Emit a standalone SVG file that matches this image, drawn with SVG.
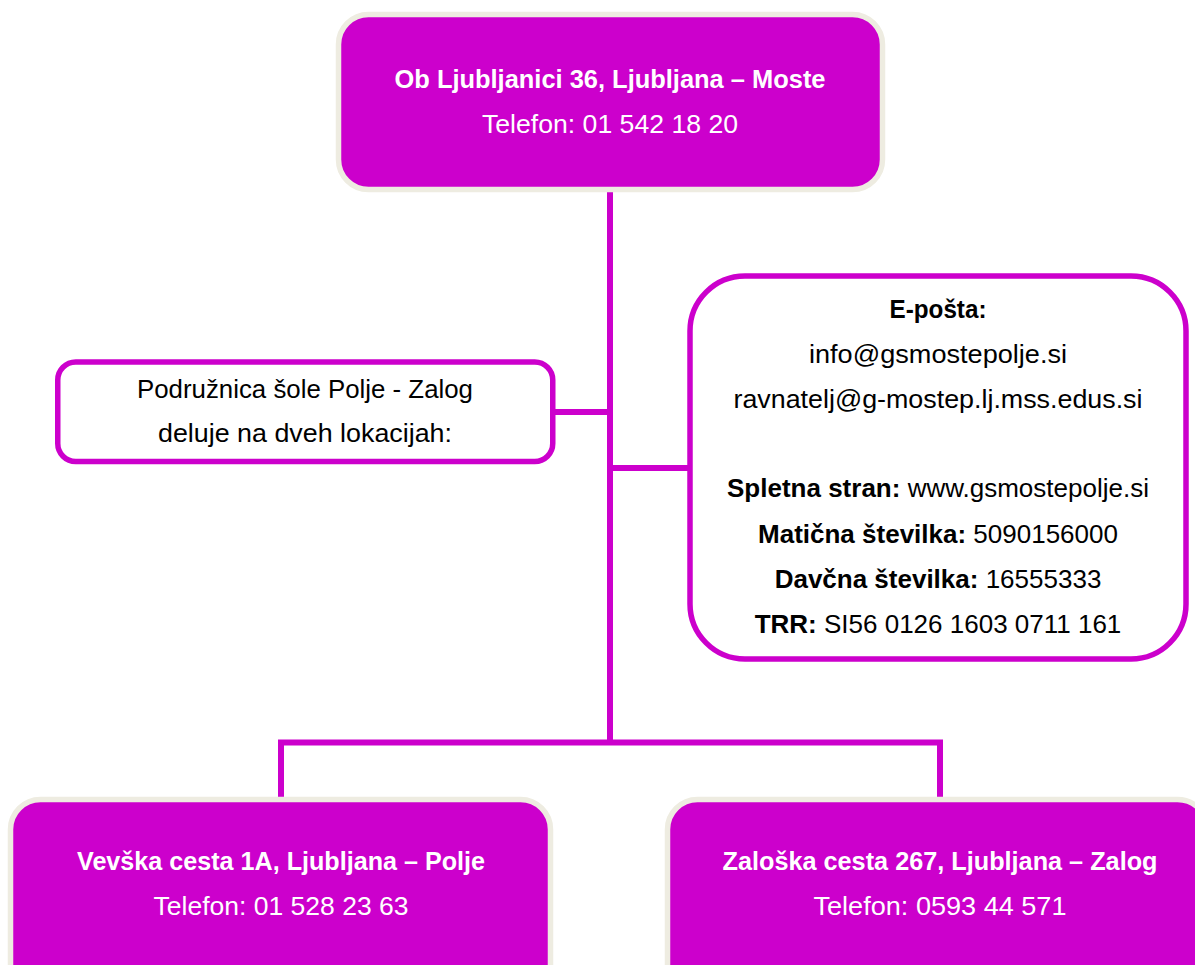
<svg xmlns="http://www.w3.org/2000/svg" width="1195" height="965" viewBox="0 0 1195 965">
<style>
.fill{fill:#CC00CC;stroke:#EEECE1;stroke-width:5.5}
.outline{fill:#FFFFFF;stroke:#CC00CC;stroke-width:5.5}
.conn{fill:none;stroke:#CC00CC;stroke-width:6;stroke-linecap:butt;stroke-linejoin:miter}
text{font-family:"Liberation Sans",Arial,sans-serif;font-size:26px;text-anchor:middle}
.w{fill:#FFFFFF}
.k{fill:#000000}
.b{font-weight:bold}
</style>
<rect width="1195" height="965" fill="#FFFFFF"/>
<g id="connectors">
<path class="conn" d="M610 192 V742"/>
<path class="conn" d="M555 412 H610"/>
<path class="conn" d="M610 468 H688"/>
<path class="conn" d="M281 797 V742.5 H940 V797"/>
</g>
<g id="node-main">
<rect class="fill" x="338.5" y="14.5" width="544" height="175" rx="30"/>
<text class="w b" x="610" y="88" textLength="431" lengthAdjust="spacingAndGlyphs">Ob Ljubljanici 36, Ljubljana – Moste</text>
<text class="w" x="610" y="133" textLength="256" lengthAdjust="spacingAndGlyphs">Telefon: 01 542 18 20</text>
</g>
<g id="node-podruznica">
<rect class="outline" x="57.75" y="362" width="495" height="99.5" rx="18"/>
<text class="k" x="305" y="398" textLength="336" lengthAdjust="spacingAndGlyphs">Podružnica šole Polje - Zalog</text>
<text class="k" x="305" y="442" textLength="294" lengthAdjust="spacingAndGlyphs">deluje na dveh lokacijah:</text>
</g>
<g id="node-info">
<rect class="outline" x="690" y="276" width="496" height="383" rx="55"/>
<text class="k b" x="938" y="318" textLength="97" lengthAdjust="spacingAndGlyphs">E-pošta:</text>
<text class="k" x="938" y="363" textLength="258" lengthAdjust="spacingAndGlyphs">info@gsmostepolje.si</text>
<text class="k" x="938" y="408" textLength="409" lengthAdjust="spacingAndGlyphs">ravnatelj@g-mostep.lj.mss.edus.si</text>
<text class="k" x="938" y="497"><tspan class="b">Spletna stran:</tspan> www.gsmostepolje.si</text>
<text class="k" x="938" y="543"><tspan class="b">Matična številka:</tspan> 5090156000</text>
<text class="k" x="938" y="588"><tspan class="b">Davčna številka:</tspan> 16555333</text>
<text class="k" x="938" y="633"><tspan class="b">TRR:</tspan> SI56 0126 1603 0711 161</text>
</g>
<g id="node-polje">
<rect class="fill" x="10.5" y="799.5" width="540" height="200" rx="30"/>
<text class="w b" x="281" y="870" textLength="408" lengthAdjust="spacingAndGlyphs">Vevška cesta 1A, Ljubljana – Polje</text>
<text class="w" x="281" y="915" textLength="255" lengthAdjust="spacingAndGlyphs">Telefon: 01 528 23 63</text>
</g>
<g id="node-zalog">
<rect class="fill" x="667.5" y="799.5" width="540" height="200" rx="30"/>
<text class="w b" x="940" y="870" textLength="435" lengthAdjust="spacingAndGlyphs">Zaloška cesta 267, Ljubljana – Zalog</text>
<text class="w" x="940" y="915" textLength="253" lengthAdjust="spacingAndGlyphs">Telefon: 0593 44 571</text>
</g>
</svg>
